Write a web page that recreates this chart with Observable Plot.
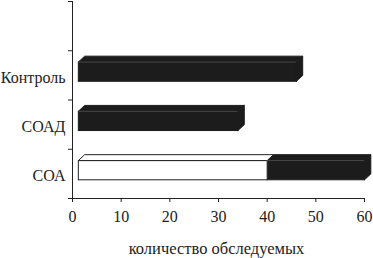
<!DOCTYPE html>
<html>
<head>
<meta charset="utf-8">
<script src="https://cdn.jsdelivr.net/npm/d3@7"></script>
<script src="https://cdn.jsdelivr.net/npm/@observablehq/plot@0.6"></script>
<style>
  html, body { margin: 0; padding: 0; background: #fff; }
  #chart { width: 373px; height: 258px; }
</style>
</head>
<body>
<div id="chart"></div>
<script>
// ---- data (categories listed bottom to top) ----
const categories = ["СОА", "СОАД", "Контроль"];
const whiteValues = [40, 0, 0];
const blackValues = [20, 34, 46];
const xTicks = [0, 10, 20, 30, 40, 50, 60];
const bandEdges = [0, 1, 2, 3, 4];
const axisTitle = "количество обследуемых";

// ---- 3D bar geometry (style constants, data units) ----
const GAP = 1.2;      // bars start slightly right of the axis
const DX = 1.3;       // depth offset along x
const DY = 0.12;      // depth offset along y
const LO = 0.38, HI = 0.77; // front face vertical extent within band
const FONT = "'Liberation Serif', 'Times New Roman', serif";

const whiteFaces = [], blackFaces = [], edges = [];
let fid = 0;
function addPoly(list, pts) {
  const id = fid++;
  pts.concat([pts[0]]).forEach(([x, y]) => list.push({id, x, y}));
}
categories.forEach((c, i) => {
  const yb = i + LO, yt = i + HI;
  let start = GAP;
  const segs = [];
  if (whiteValues[i] > 0) { segs.push({x1: start, x2: whiteValues[i], color: "white"}); start = whiteValues[i]; }
  if (blackValues[i] > 0) { segs.push({x1: start, x2: (whiteValues[i] || 0) + blackValues[i], color: "black"}); }
  segs.forEach((s, k) => {
    const list = s.color === "white" ? whiteFaces : blackFaces;
    const last = k === segs.length - 1;
    addPoly(list, [[s.x1, yb], [s.x2, yb], [s.x2, yt], [s.x1, yt]]);
    addPoly(list, [[s.x1, yt], [s.x2, yt], [s.x2 + DX, yt + DY], [s.x1 + DX, yt + DY]]);
    if (last) addPoly(list, [[s.x2, yb], [s.x2, yt], [s.x2 + DX, yt + DY], [s.x2 + DX, yb + DY]]);
    if (s.color === "black") edges.push({x1: s.x1, x2: s.x2, y: yt});
  });
});

const labelRows = categories.map((c, i) => ({c, y: i + 0.5}));

const chart = Plot.plot({
  width: 373,
  height: 258,
  marginLeft: 72,
  marginRight: 9,
  marginTop: 1,
  marginBottom: 60,
  style: {fontFamily: FONT, fontSize: "16px", background: "white", color: "#222"},
  x: {domain: [0, 60], axis: null},
  y: {domain: [0, 4], axis: null},
  marks: [
    Plot.line(blackFaces, {x: "x", y: "y", z: "id", fill: "#1c1c1c", stroke: "#1c1c1c", strokeWidth: 1, curve: "linear"}),
    Plot.line(whiteFaces, {x: "x", y: "y", z: "id", fill: "white", stroke: "#222", strokeWidth: 1, curve: "linear"}),
    Plot.ruleY(edges, {x1: "x1", x2: "x2", y: "y", stroke: "#666", strokeWidth: 0.6}),
    Plot.ruleX([0], {stroke: "#222"}),
    Plot.ruleY([0], {stroke: "#222"}),
    Plot.axisX(xTicks, {tickSize: 4, tickPadding: 8, fontSize: 16, fontFamily: FONT, label: null, stroke: "#222", fill: "#222"}),
    Plot.axisY(bandEdges, {tickSize: 4, tickFormat: () => "", label: null, stroke: "#222"}),
    Plot.text(labelRows, {x: () => 0, y: "y", text: "c", textAnchor: "end", dx: -7, dy: 2, fontSize: 16, fontFamily: FONT, fill: "#222"}),
    Plot.text([axisTitle], {frameAnchor: "bottom", lineAnchor: "bottom", dx: -2, dy: 55, fontSize: 16.5, fontFamily: FONT, fill: "#222"})
  ]
});
document.getElementById("chart").appendChild(chart);
</script>
</body>
</html>
